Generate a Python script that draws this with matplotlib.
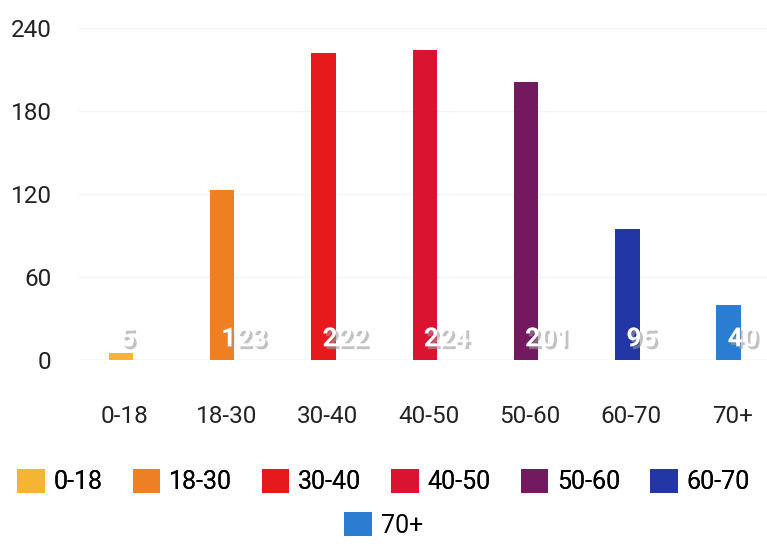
import matplotlib
matplotlib.use("Agg")
import matplotlib.pyplot as plt
import matplotlib.patheffects as pe
from matplotlib.patches import Patch

groups = ["0-18", "18-30", "30-40", "40-50", "50-60", "60-70", "70+"]
counts = [5, 123, 222, 224, 201, 95, 40]
colors = ["#f4b533", "#ee7f22", "#e6191c", "#da1430", "#73195f", "#2236a6", "#2a7dd0"]
yticks = [0, 60, 120, 180, 240]

plt.rcParams["font.family"] = ["Liberation Sans Narrow", "Roboto", "DejaVu Sans"]

fig = plt.figure(figsize=(7.67, 5.44), dpi=100)
ax = fig.add_axes([0.1035, 0.338, 0.898, 0.611])

x = list(range(len(groups)))
ax.bar([i - 0.04 for i in x], counts, width=0.24, color=colors, zorder=2)

# white value labels sitting near the bottom of each bar, with a grey drop shadow
shadow = [pe.withSimplePatchShadow(offset=(2, -2), shadow_rgbFace="#9a9a9a", alpha=0.6)]
for i, v in zip(x, counts):
    ax.text(i - 0.05, 15, str(v), ha="left", va="center", color="white",
            fontsize=19, fontweight="bold", path_effects=shadow, zorder=3)

ax.set_xlim(-0.45, 6.35)
ax.set_ylim(0, 240)
ax.set_yticks(yticks)
ax.set_xticks(x)
ax.set_xticklabels(groups)
ax.tick_params(axis="both", length=0, labelsize=17.5, colors="#222222")
ax.tick_params(axis="y", pad=20)
ax.tick_params(axis="x", pad=32)
ax.grid(axis="y", color="#f3f3f3", linewidth=1, zorder=0)
ax.axhline(0, color="#e8e8e8", linewidth=1, zorder=1)
for s in ax.spines.values():
    s.set_visible(False)

handles = [Patch(facecolor=c, label=g) for g, c in zip(groups, colors)]
leg1 = fig.legend(handles=handles[:6], loc="center", bbox_to_anchor=(0.5, 0.115), ncol=6,
                  frameon=False, fontsize=18, handlelength=1.1, handleheight=1.1,
                  handletextpad=0.35, columnspacing=1.2)
fig.legend(handles=handles[6:], loc="center", bbox_to_anchor=(0.5, 0.035), ncol=1,
           frameon=False, fontsize=18, handlelength=1.1, handleheight=1.1, handletextpad=0.35)
fig.add_artist(leg1)

fig.savefig("out.png", dpi=100)
